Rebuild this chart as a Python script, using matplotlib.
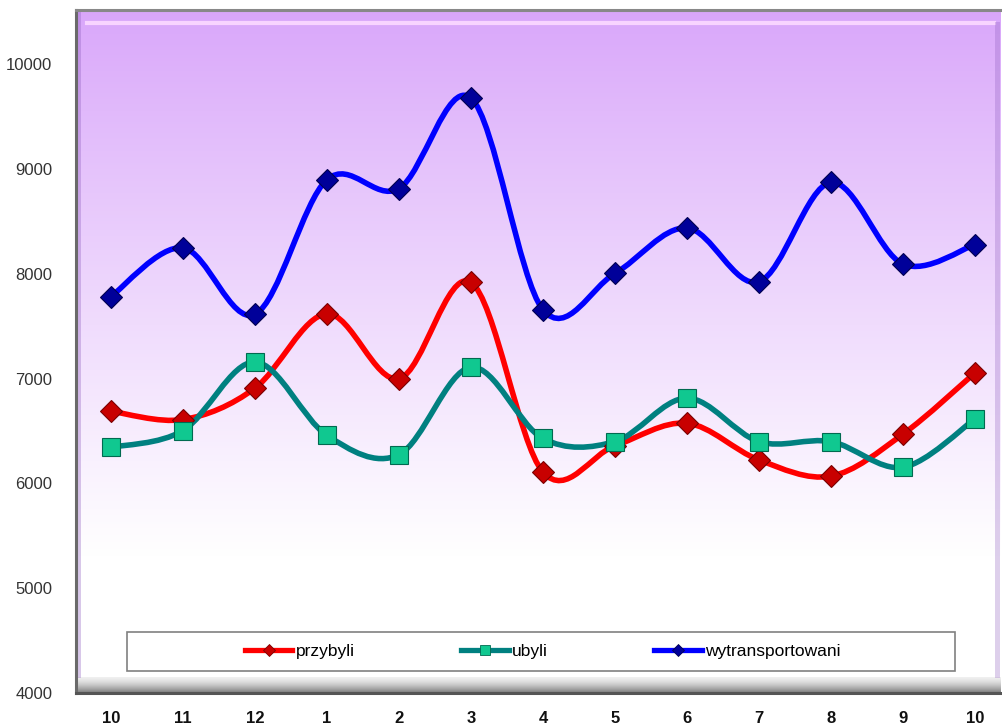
import numpy as np
import matplotlib
matplotlib.use("Agg")
import matplotlib.pyplot as plt
from matplotlib.path import Path
from matplotlib.patches import PathPatch, Rectangle
from matplotlib.lines import Line2D

plt.rcParams['font.family'] = ['Liberation Sans', 'DejaVu Sans']

# months on the category axis
months = ['10', '11', '12', '1', '2', '3', '4', '5', '6', '7', '8', '9', '10']
przybyli = [6690, 6610, 6910, 7620, 7000, 7920, 6110, 6360, 6575, 6225, 6070, 6470, 7055]
ubyli = [6345, 6505, 7160, 6460, 6275, 7110, 6430, 6400, 6815, 6400, 6400, 6155, 6615]
wytransportowani = [7785, 8250, 7615, 8900, 8815, 9680, 7660, 8005, 8440, 7925, 8875, 8095, 8280]
yticks = [4000, 5000, 6000, 7000, 8000, 9000, 10000]


def smooth_path(xs, ys):
    # catmull-rom style bezier through the points, like excel's smoothed line
    pts = np.column_stack([xs, ys]).astype(float)
    n = len(pts)
    verts = [pts[0]]
    codes = [Path.MOVETO]
    for i in range(n - 1):
        p0 = pts[max(i - 1, 0)]
        p1 = pts[i]
        p2 = pts[i + 1]
        p3 = pts[min(i + 2, n - 1)]
        c1 = p1 + (p2 - p0) / 6.0
        c2 = p2 - (p3 - p1) / 6.0
        verts += [c1, c2, p2]
        codes += [Path.CURVE4] * 3
    return Path(verts, codes)


fig = plt.figure(figsize=(10.02, 7.25), dpi=100)
ax = fig.add_axes([76 / 1002, 32 / 725, 924 / 1002, 683 / 725])
x = np.arange(len(months))
ax.set_xlim(-0.486, 12.35)
ax.set_ylim(4000, 10520)

# purple -> white background gradient (white over the lower part)
grad = np.linspace(0, 1, 256)[:, None]
grad = np.clip(grad / 0.80, 0, 1) ** 0.9
top = np.array([0.85, 0.65, 0.98])
img = top[None, None, :] * (1 - grad[:, :, None]) + np.ones(3)[None, None, :] * grad[:, :, None]
ax.imshow(img, extent=[0, 1, 0, 1], transform=ax.transAxes, aspect='auto', zorder=0)

# bevel: bottom gray band, top highlight, side shading
band = np.linspace(0, 1, 64)[:, None]
gray = 0.94 - 0.46 * band ** 1.5
ax.imshow(np.repeat(gray[:, :, None], 3, axis=2), extent=[0, 1, 0, 0.022],
          transform=ax.transAxes, aspect='auto', zorder=1)
ax.add_line(Line2D([0.012, 0.994], [0.981, 0.981], transform=ax.transAxes,
                   color='#f8d4ff', lw=3, zorder=1))
ax.add_patch(Rectangle((0.0, 0.022), 0.005, 0.978, transform=ax.transAxes,
                       color='#9060c0', alpha=0.35, lw=0, zorder=1))
ax.add_patch(Rectangle((0.995, 0.022), 0.005, 0.96, transform=ax.transAxes,
                       color='#9060c0', alpha=0.3, lw=0, zorder=1))

series = [
    (przybyli, 'przybyli', '#ff0000', 'D', 11.5, '#c80000', '#7a0000'),
    (ubyli, 'ubyli', '#008080', 's', 12.5, '#10c890', '#006a50'),
    (wytransportowani, 'wytransportowani', '#0000ff', 'D', 11.5, '#000099', '#000050'),
]
handles = []
for vals, name, col, mk, ms, fc, ec in series:
    ax.add_patch(PathPatch(smooth_path(x, vals), facecolor='none', edgecolor=col,
                           lw=4.0, capstyle='round', joinstyle='round', zorder=3))
    ax.plot(x, vals, linestyle='none', marker=mk, ms=ms, mfc=fc, mec=ec, mew=0.8, zorder=4)
    handles.append(Line2D([], [], color=col, lw=3.8, marker=mk, ms=ms * 0.55,
                          mfc=fc, mec=ec, mew=0.6, label=name))

ax.set_xticks(x)
ax.set_xticklabels(months, fontsize=12, fontweight='bold', color='#111111')
ax.set_yticks(yticks)
ax.set_yticklabels([str(v) for v in yticks], fontsize=12, color='#333333')
ax.tick_params(axis='both', length=0)
ax.tick_params(axis='x', pad=13)
ax.tick_params(axis='y', pad=17)

ax.spines['right'].set_visible(False)
ax.spines['left'].set_color('#6a6a6a')
ax.spines['left'].set_linewidth(2.2)
ax.spines['bottom'].set_color('#555555')
ax.spines['bottom'].set_linewidth(2.2)
ax.spines['top'].set_color('#888888')
ax.spines['top'].set_linewidth(2.2)

# legend box
ax.add_patch(Rectangle((0.055, 0.032), 0.896, 0.057, transform=ax.transAxes,
                       facecolor='white', edgecolor='#808080', lw=1.2, zorder=5))
ax.legend(handles=handles, loc='center', bbox_to_anchor=(0.505, 0.061), ncol=3,
          frameon=False, fontsize=12.5, handlelength=2.75, handletextpad=0.2,
          columnspacing=6.1, borderaxespad=0).set_zorder(6)

fig.savefig('out.png', dpi=100)
